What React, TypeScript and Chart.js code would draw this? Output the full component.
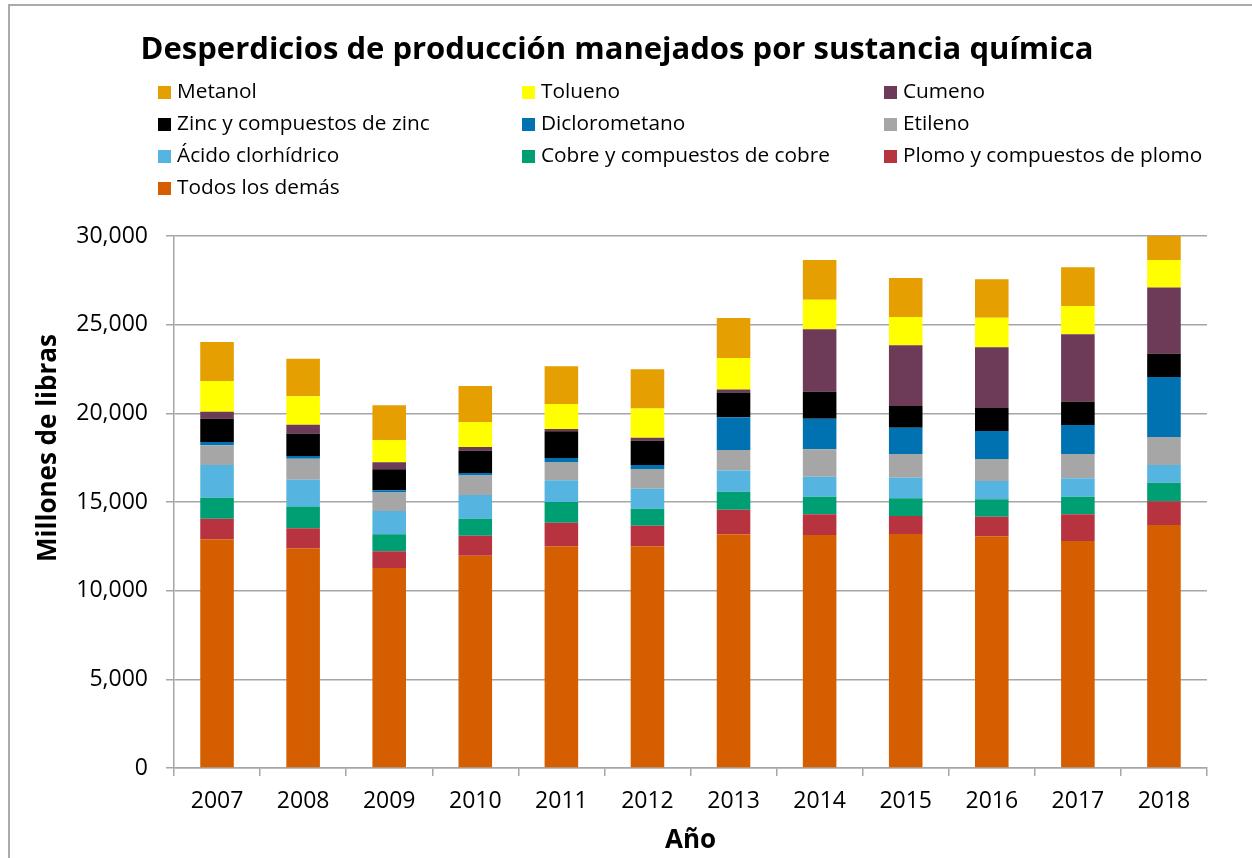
import React, { useEffect, useRef } from "react";
import { Chart, registerables } from "chart.js";

Chart.register(...registerables);

const years = ["2007", "2008", "2009", "2010", "2011", "2012", "2013", "2014", "2015", "2016", "2017", "2018"];
const todos = [12900, 12390, 11280, 11970, 12500, 12500, 13180, 13140, 13200, 13070, 12800, 13700];
const plomo = [1160, 1130, 940, 1130, 1330, 1160, 1380, 1170, 1010, 1100, 1510, 1340];
const cobre = [1180, 1220, 960, 960, 1170, 960, 1020, 990, 1000, 980, 990, 1050];
const acido = [1850, 1520, 1310, 1340, 1220, 1130, 1190, 1130, 1160, 1040, 1040, 1000];
const etileno = [1110, 1180, 1040, 1090, 1040, 1110, 1160, 1540, 1340, 1240, 1370, 1570];
const dicloro = [180, 150, 130, 150, 220, 230, 1850, 1730, 1480, 1570, 1630, 3390];
const zinc = [1320, 1260, 1180, 1250, 1510, 1370, 1390, 1520, 1220, 1300, 1320, 1310];
const cumeno = [390, 510, 400, 210, 130, 170, 180, 3520, 3430, 3420, 3800, 3730];
const tolueno = [1730, 1600, 1260, 1410, 1410, 1640, 1770, 1670, 1590, 1670, 1590, 1560];
const metanol = [2200, 2120, 1950, 2030, 2120, 2210, 2260, 2240, 2200, 2170, 2190, 1350];

const yMax = 30000;
const yStep = 5000;

const titleText = "Desperdicios de producción manejados por sustancia química";
const yTitle = "Millones de libras";
const xTitle = "Año";

// stacking order: bottom first
const seriesNames = [
  "Todos los demás",
  "Plomo y compuestos de plomo",
  "Cobre y compuestos de cobre",
  "Ácido clorhídrico",
  "Etileno",
  "Diclorometano",
  "Zinc y compuestos de zinc",
  "Cumeno",
  "Tolueno",
  "Metanol",
];
const seriesData = [todos, plomo, cobre, acido, etileno, dicloro, zinc, cumeno, tolueno, metanol];
const seriesColors = [
  "#D55E00",
  "#B83340",
  "#009E73",
  "#56B4E0",
  "#A6A6A6",
  "#0072B2",
  "#000000",
  "#6D3A57",
  "#FFFF00",
  "#E69F00",
];

// legend layout: rows of three, top-of-stack first
const legendOrder = [9, 8, 7, 6, 5, 4, 3, 2, 1, 0];

const FONT = "'Open Sans', 'DejaVu Sans', sans-serif";

export default function App() {
  const canvasRef = useRef<HTMLCanvasElement | null>(null);

  useEffect(() => {
    const canvas = canvasRef.current;
    if (!canvas) return;
    const chart = new Chart(canvas, {
      type: "bar",
      data: {
        labels: years,
        datasets: seriesNames.map((name, i) => ({
          label: name,
          data: seriesData[i],
          backgroundColor: seriesColors[i],
          borderWidth: 0,
          barPercentage: 0.39,
          categoryPercentage: 1,
        })),
      },
      options: {
        responsive: false,
        animation: false,
        devicePixelRatio: 1,
        layout: { padding: { top: 236, right: 45, left: 0, bottom: 0 } },
        plugins: {
          legend: { display: false },
          title: { display: false },
          tooltip: { enabled: false },
        },
        scales: {
          x: {
            stacked: true,
            grid: {
              display: true,
              drawOnChartArea: false,
              drawTicks: true,
              tickLength: 8,
              color: "#a6a6a6",
              lineWidth: 1.5,
              offset: true,
            },
            border: { display: true, color: "#a6a6a6", width: 1.5 },
            ticks: {
              color: "#000",
              font: { family: FONT, size: 23 },
              padding: 12,
              maxRotation: 0,
            },
            title: {
              display: true,
              text: xTitle,
              color: "#000",
              font: { family: FONT, size: 26, weight: "bold" },
              padding: { top: 0, bottom: 2 },
            },
            afterFit: (s: any) => {
              s.height = 90;
            },
          },
          y: {
            stacked: true,
            min: 0,
            max: yMax,
            grid: {
              color: "#a6a6a6",
              lineWidth: 1.5,
              drawTicks: true,
              tickLength: 8,
            },
            border: { display: true, color: "#a6a6a6", width: 1.5 },
            ticks: {
              stepSize: yStep,
              color: "#000",
              font: { family: FONT, size: 23 },
              padding: 18,
              callback: (v: any) => Number(v).toLocaleString("en-US"),
            },
            title: { display: false },
            afterFit: (s: any) => {
              s.width = 174;
            },
          },
        },
      },
    });
    return () => chart.destroy();
  }, []);

  const colX = [158, 522, 884];
  const rowBase = [98, 130, 162, 194];

  return (
    <div style={{ position: "fixed", left: 0, top: 0, width: 1252, height: 858, background: "#fff", overflow: "hidden" }}>
      <div
        style={{
          position: "absolute",
          left: 8,
          top: 4,
          width: 1244,
          height: 854,
          borderLeft: "2px solid #aaaaaa",
          borderTop: "2px solid #aaaaaa",
          boxSizing: "border-box",
        }}
      />
      <canvas ref={canvasRef} width={1252} height={858} style={{ position: "absolute", left: 0, top: 0, width: 1252, height: 858 }} />
      <div
        style={{
          position: "absolute",
          left: 0,
          width: 1252,
          top: 27,
          lineHeight: "40px",
          textAlign: "center",
          fontFamily: FONT,
          fontWeight: 700,
          fontSize: 31,
          color: "#000",
          paddingRight: 18,
          boxSizing: "border-box",
          whiteSpace: "nowrap",
        }}
      >
        {titleText}
      </div>
      <div
        style={{
          position: "absolute",
          left: 46 - 150,
          top: 448 - 18,
          width: 300,
          height: 36,
          lineHeight: "36px",
          textAlign: "center",
          fontFamily: FONT,
          fontWeight: 700,
          fontSize: 26,
          color: "#000",
          transform: "rotate(-90deg)",
          transformOrigin: "50% 50%",
          whiteSpace: "nowrap",
        }}
      >
        {yTitle}
      </div>
      {legendOrder.map((si, k) => {
        const col = k % 3;
        const row = Math.floor(k / 3);
        const base = rowBase[row];
        return (
          <div key={si}>
            <div
              style={{
                position: "absolute",
                left: colX[col],
                top: base - 12,
                width: 13,
                height: 13,
                background: seriesColors[si],
              }}
            />
            <div
              style={{
                position: "absolute",
                left: colX[col] + 19,
                top: base - 20,
                lineHeight: "24px",
                fontFamily: FONT,
                fontSize: 20.8,
                color: "#000",
                whiteSpace: "nowrap",
              }}
            >
              {seriesNames[si]}
            </div>
          </div>
        );
      })}
    </div>
  );
}
